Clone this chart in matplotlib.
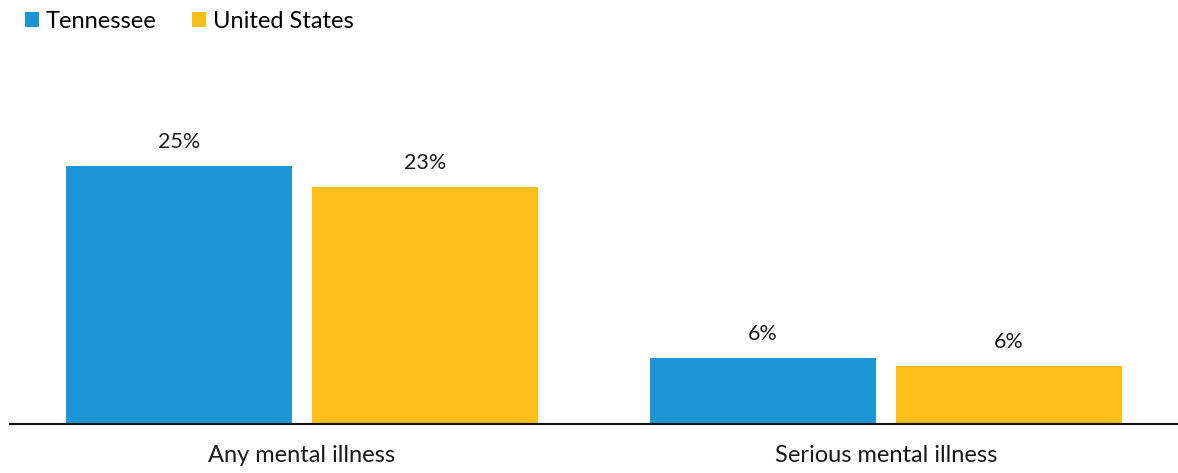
import matplotlib.pyplot as plt
from matplotlib.patches import Patch
import numpy as np

plt.rcParams['font.family'] = ['Lato', 'DejaVu Sans']

categories = ["Any mental illness", "Serious mental illness"]
series_names = ["Tennessee", "United States"]
tennessee = [25.0, 6.4]
united_states = [23.0, 5.6]
colors = ["#1a96d4", "#fcbf17"]

fig = plt.figure(figsize=(11.78, 4.73), dpi=100)
ax = fig.add_axes([10 / 1178, 49 / 473, 1168 / 1178, 364 / 473])

x = np.arange(len(categories))
width = 0.387
offset = 0.211

for vals, sign, color in [(tennessee, -1, colors[0]), (united_states, 1, colors[1])]:
    bars = ax.bar(x + sign * offset, vals, width=width, color=color)
    for b, v in zip(bars, vals):
        ax.annotate(f"{v:.0f}%", (b.get_x() + b.get_width() / 2, v),
                    xytext=(0, 10), textcoords="offset points",
                    ha="center", va="bottom", fontsize=15.5, color="#1a1a1a")

ax.set_xlim(-0.5, 1.5)
ax.set_ylim(0, 25 * 364 / 258)
ax.set_xticks(x)
ax.set_xticklabels(categories, fontsize=17, color="#1a1a1a")
ax.tick_params(axis="x", length=0, pad=15)
ax.set_yticks([])
for s in ["top", "right", "left"]:
    ax.spines[s].set_visible(False)
ax.spines["bottom"].set_linewidth(1.5)
ax.spines["bottom"].set_color("#111111")

handles = [Patch(facecolor=c, label=n) for c, n in zip(colors, series_names)]
fig.legend(handles=handles, loc="upper left", bbox_to_anchor=(0.003, 1.021),
           ncol=2, frameon=False, fontsize=17, handlelength=0.6,
           handleheight=0.6, handletextpad=0.3, columnspacing=1.5)

fig.savefig("out.png", dpi=100)
